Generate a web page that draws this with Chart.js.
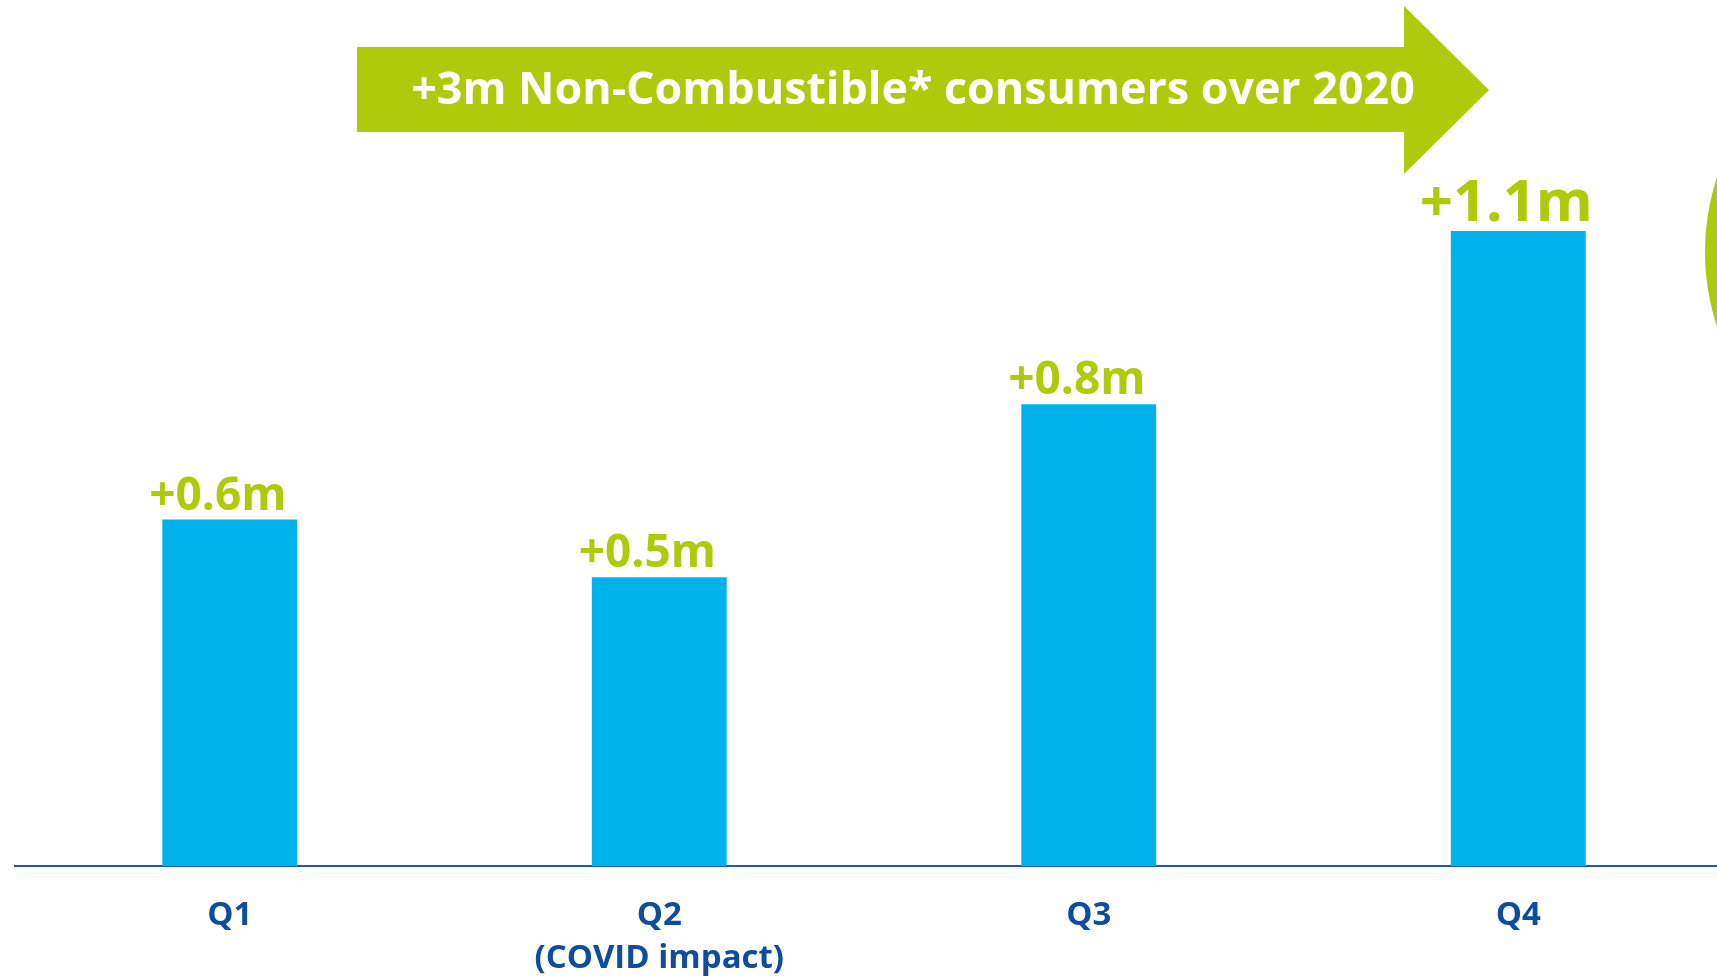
<!DOCTYPE html>
<html>
<head>
<meta charset="utf-8">
<script src="https://cdn.jsdelivr.net/npm/chart.js@4"></script>
<style>
  html, body { margin: 0; padding: 0; background: #fff; overflow: hidden; }
  #wrap { width: 1740px; height: 980px; }
</style>
</head>
<body>
<div id="wrap"><canvas id="nc-chart" width="1740" height="980"></canvas></div>
<script>
// Non-combustible consumer growth by quarter, 2020
const quarters = [['Q1'], ['Q2', '(COVID impact)'], ['Q3'], ['Q4']];
const consumersAdded = [0.6, 0.5, 0.8, 1.1];       // millions
const valueLabels = ['+0.6m', '+0.5m', '+0.8m', '+1.1m'];
const bannerText = '+3m Non-Combustible* consumers over 2020';

const GREEN = '#afca0b';
const BAR_BLUE = '#00b2eb';
const NAVY = '#0d4c9e';
const FONT = '"Open Sans", "DejaVu Sans", sans-serif';

// value labels above each bar, last one larger
const valueLabelPlugin = {
  id: 'valueLabels',
  afterDatasetsDraw(chart) {
    const ctx = chart.ctx;
    const meta = chart.getDatasetMeta(0);
    ctx.save();
    ctx.fillStyle = GREEN;
    ctx.textAlign = 'center';
    ctx.textBaseline = 'alphabetic';
    meta.data.forEach((bar, i) => {
      const big = i === valueLabels.length - 1;
      ctx.font = `700 ${big ? 58 : 46}px ${FONT}`;
      ctx.fillText(valueLabels[i], bar.x - 12, bar.y - 10);
    });
    ctx.restore();
  }
};

// green banner arrow and the partial disc on the right edge
const decorPlugin = {
  id: 'decor',
  afterDraw(chart) {
    const ctx = chart.ctx;
    ctx.save();
    ctx.fillStyle = GREEN;
    ctx.beginPath();
    ctx.moveTo(357, 47);
    ctx.lineTo(1404, 47);
    ctx.lineTo(1404, 6);
    ctx.lineTo(1489, 90);
    ctx.lineTo(1404, 174);
    ctx.lineTo(1404, 132);
    ctx.lineTo(357, 132);
    ctx.closePath();
    ctx.fill();

    ctx.beginPath();
    ctx.arc(1945, 252, 240, 0, Math.PI * 2);
    ctx.fill();

    // fit banner text to its width in the reference
    let size = 46;
    ctx.font = `700 ${size}px ${FONT}`;
    size = size * 1004 / ctx.measureText(bannerText).width;
    ctx.font = `700 ${size}px ${FONT}`;
    ctx.fillStyle = '#ffffff';
    ctx.textAlign = 'center';
    ctx.textBaseline = 'middle';
    ctx.fillText(bannerText, 913, 91);
    ctx.restore();
  }
};

new Chart(document.getElementById('nc-chart'), {
  type: 'bar',
  data: {
    labels: quarters,
    datasets: [{
      data: consumersAdded,
      backgroundColor: BAR_BLUE,
      borderWidth: 0,
      categoryPercentage: 1,
      barPercentage: 0.314
    }]
  },
  options: {
    responsive: false,
    animation: false,
    layout: { padding: { left: 15, right: 7, top: 0, bottom: 0 } },
    plugins: { legend: { display: false }, tooltip: { enabled: false } },
    scales: {
      x: {
        grid: { display: false, drawTicks: false },
        border: { display: true, color: '#1b5cab', width: 2 },
        ticks: {
          color: NAVY,
          padding: 28,
          font: { family: FONT, size: 33, weight: '700', lineHeight: 43 / 33 }
        },
        afterFit(scale) { scale.height = 114; }
      },
      y: {
        display: false,
        min: 0,
        max: 1.5
      }
    }
  },
  plugins: [valueLabelPlugin, decorPlugin]
});
</script>
</body>
</html>
